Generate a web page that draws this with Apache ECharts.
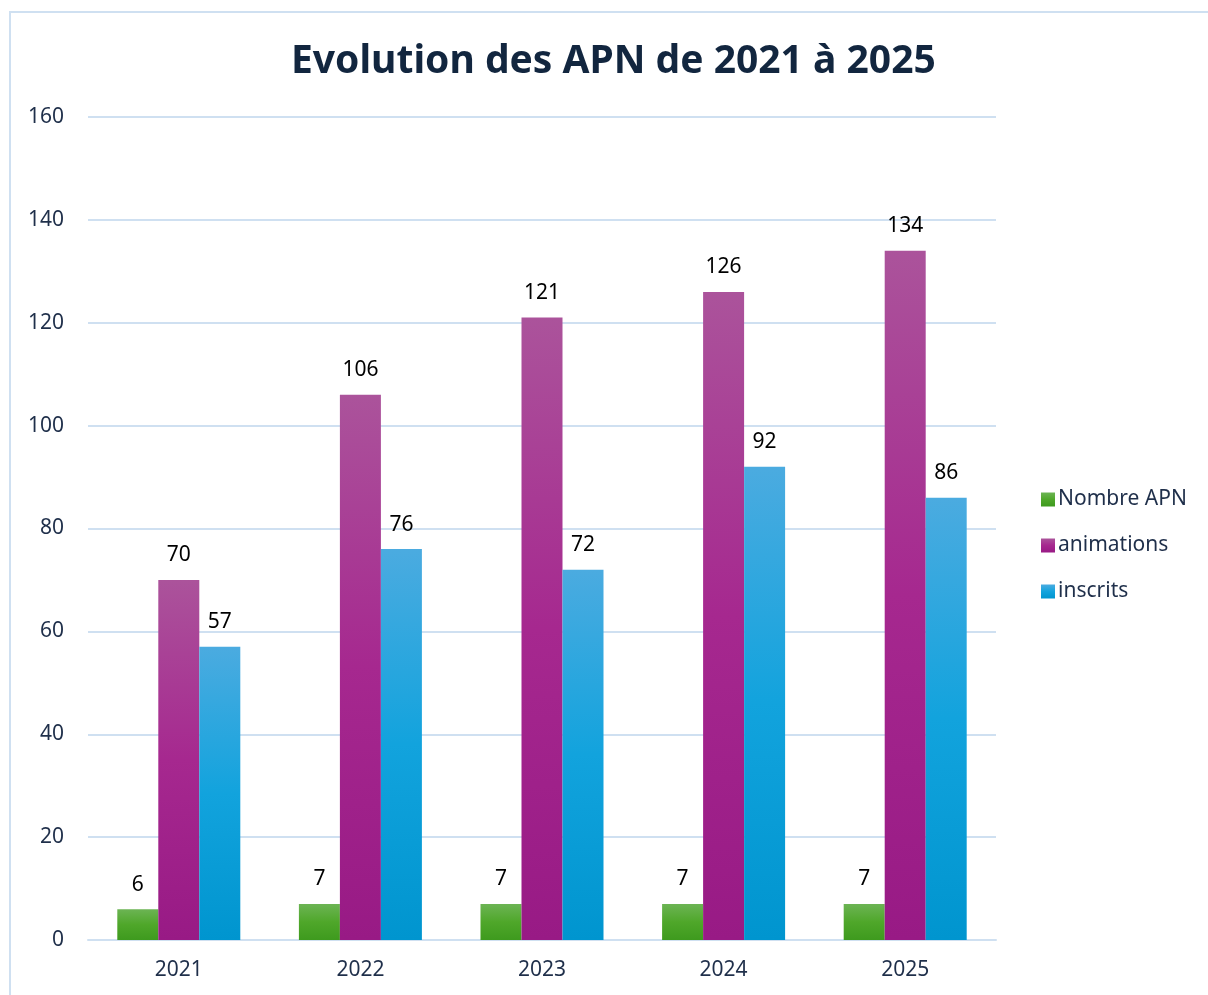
<!DOCTYPE html>
<html>
<head>
<meta charset="utf-8">
<script src="https://cdn.jsdelivr.net/npm/echarts@6/dist/echarts.min.js"></script>
<style>
  html, body { margin: 0; padding: 0; background: #fff; overflow: hidden; }
  #frame { position: absolute; left: 9px; top: 11px; width: 1300px; height: 1100px; border: 2px solid #cfe0f1; box-sizing: border-box; }
  #chart { position: absolute; left: 0; top: 0; width: 1208px; height: 995px; }
</style>
</head>
<body>
<div id="frame"></div>
<div id="chart"></div>
<script>
var years = ['2021', '2022', '2023', '2024', '2025'];
var nombreApn = [6, 7, 7, 7, 7];
var animations = [70, 106, 121, 126, 134];
var inscrits = [57, 76, 72, 92, 86];
var yTicks = [0, 20, 40, 60, 80, 100, 120, 140, 160];

function grad(top, mid, bottom) {
  return new echarts.graphic.LinearGradient(0, 0, 0, 1, [
    {offset: 0, color: top},
    {offset: 0.5, color: mid},
    {offset: 1, color: bottom}
  ]);
}

function barSeries(name, data, color) {
  return {
    name: name,
    type: 'bar',
    data: data,
    barWidth: 41,
    barGap: '0%',
    itemStyle: {color: color},
    label: {
      show: true,
      position: 'top',
      distance: 14,
      color: '#000000',
      fontSize: 21,
      fontFamily: 'Noto Sans'
    }
  };
}

var chart = echarts.init(document.getElementById('chart'), null, {renderer: 'canvas'});

chart.setOption({
  animation: false,
  textStyle: {fontFamily: 'Noto Sans'},
  title: {
    text: 'Evolution des APN de 2021 à 2025',
    left: 286,
    top: 37,
    textStyle: {color: '#12263f', fontSize: 39, fontWeight: 'bold', fontFamily: 'Noto Sans'}
  },
  legend: {
    orient: 'vertical',
    left: 1036,
    top: 484,
    itemWidth: 14,
    itemHeight: 14,
    itemGap: 25,
    icon: 'rect',
    textStyle: {color: '#1f2f4a', fontSize: 21, padding: [0, 0, 0, -2]},
    data: ['Nombre APN', 'animations', 'inscrits']
  },
  grid: {left: 88, right: 212, top: 117, bottom: 55, containLabel: false},
  xAxis: {
    type: 'category',
    data: years,
    axisLine: {lineStyle: {color: '#cfe0f1', width: 2}},
    axisTick: {show: false},
    axisLabel: {color: '#1f2f4a', fontSize: 21, margin: 20}
  },
  yAxis: {
    type: 'value',
    min: yTicks[0],
    max: yTicks[yTicks.length - 1],
    interval: 20,
    axisLine: {show: false},
    axisTick: {show: false},
    splitLine: {lineStyle: {color: '#cfe0f1', width: 2}},
    axisLabel: {color: '#1f2f4a', fontSize: 21, margin: 24}
  },
  series: [
    barSeries('Nombre APN', nombreApn, grad('#6cb454', '#4fa72a', '#3e9a1e')),
    barSeries('animations', animations, grad('#ab539b', '#a6288f', '#981a85')),
    barSeries('inscrits', inscrits, grad('#4babe0', '#12a3dd', '#0095cf'))
  ]
});
</script>
</body>
</html>
